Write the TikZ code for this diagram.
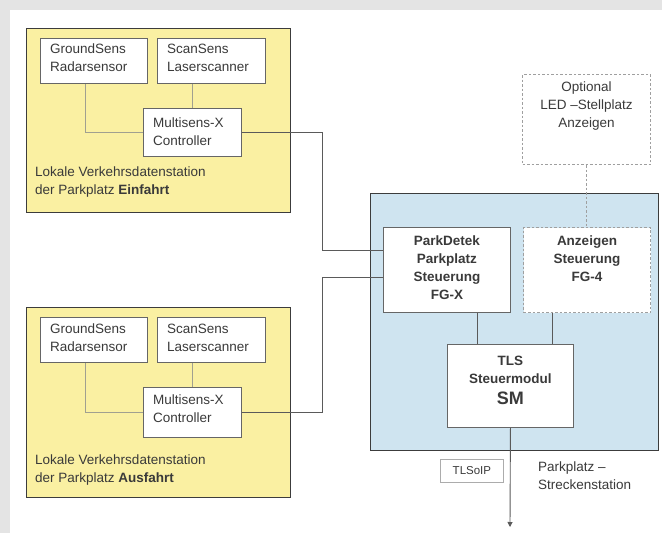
\documentclass[tikz,border=0pt]{standalone}
\usepackage{fontspec}
\setmainfont{Liberation Sans}
\usetikzlibrary{arrows.meta}
\definecolor{bggray}{HTML}{E4E4E4}
\definecolor{yel}{HTML}{FAF0A2}
\definecolor{blu}{HTML}{CFE4F0}
\definecolor{txt}{HTML}{3A3A3A}
\definecolor{frame}{HTML}{3C3C3C}
\definecolor{wire}{HTML}{5A5A5A}
\definecolor{thin}{HTML}{A0A090}
\tikzset{
  every node/.style={font=\fontsize{13.5}{18}\selectfont, text=txt},
  station/.style={draw=frame, line width=1.4pt, fill=yel},
  unit/.style={draw=frame, line width=1.4pt, fill=blu},
  wbox/.style={draw=gray!80!black, line width=0.9pt, fill=white, anchor=north west, inner sep=0pt},
  dbox/.style={draw=gray!75, line width=1pt, dash pattern=on 2.5pt off 2pt, fill=white, anchor=north west, inner sep=0pt},
  lbl/.style={anchor=north west, align=left, inner sep=0pt},
  ctr/.style={anchor=north, align=center, inner sep=0pt},
  thinwire/.style={draw=thin, line width=0.8pt},
  wirestyle/.style={draw=wire, line width=0.9pt},
}
\begin{document}
\begin{tikzpicture}[x=1pt,y=-1pt]
\fill[bggray] (0,0) rectangle (662,533);
\fill[white] (10,10) rectangle (662,533);
\useasboundingbox (0,0) rectangle (662,533);

% ---- top station (Einfahrt)
\node[station, anchor=north west, minimum width=264pt, minimum height=184pt, inner sep=0pt] (st1) at (26,28) {};
\node[wbox, minimum width=107pt, minimum height=45pt] (gs1) at (40,38) {};
\node[lbl] (gs1t) at (50,44) {GroundSens\\Radarsensor};
\node[wbox, minimum width=108pt, minimum height=45pt] (ss1) at (157,38) {};
\node[lbl] (ss1t) at (167,44) {ScanSens\\Laserscanner};
\node[wbox, minimum width=98pt, minimum height=48pt] (mx1) at (143,108) {};
\node[lbl] (mx1t) at (153,118) {Multisens-X\\Controller};
\node[lbl] (st1t) at (35,167) {Lokale Verkehrsdatenstation\\der Parkplatz \textbf{Einfahrt}};
\draw[thinwire] ([xshift=-8.5pt]gs1.south) |- (mx1.west);
\draw[thinwire] (mx1.north) -- (mx1.north |- ss1.south);

% ---- bottom station (Ausfahrt)
\node[station, anchor=north west, minimum width=264pt, minimum height=190pt, inner sep=0pt] (st2) at (26,307) {};
\node[wbox, minimum width=107pt, minimum height=45pt] (gs2) at (40,317) {};
\node[lbl] (gs2t) at (50,324) {GroundSens\\Radarsensor};
\node[wbox, minimum width=108pt, minimum height=45pt] (ss2) at (157,317) {};
\node[lbl] (ss2t) at (167,324) {ScanSens\\Laserscanner};
\node[wbox, minimum width=98pt, minimum height=50pt] (mx2) at (143,387) {};
\node[lbl] (mx2t) at (153,395) {Multisens-X\\Controller};
\node[lbl] (st2t) at (35,455) {Lokale Verkehrsdatenstation\\der Parkplatz \textbf{Ausfahrt}};
\draw[thinwire] ([xshift=-8.5pt]gs2.south) |- (mx2.west);
\draw[thinwire] (mx2.north) -- (mx2.north |- ss2.south);

% ---- optional display
\node[dbox, minimum width=128pt, minimum height=90pt] (opt) at (522,74) {};
\node[ctr] (optt) at ([yshift=-8pt]opt.north) {Optional\\LED –Stellplatz\\Anzeigen};

% ---- central unit
\node[unit, anchor=north west, minimum width=288pt, minimum height=257pt, inner sep=0pt] (cu) at (370,193) {};
\node[wbox, minimum width=127pt, minimum height=85pt] (pd) at (383,227) {};
\node[ctr] (pdt) at ([yshift=-9pt]pd.north) {\textbf{ParkDetek}\\\textbf{Parkplatz}\\\textbf{Steuerung}\\\textbf{FG-X}};
\node[dbox, minimum width=127pt, minimum height=85pt] (anz) at (523,227) {};
\node[ctr] (anzt) at ([yshift=-9pt]anz.north) {\textbf{Anzeigen}\\\textbf{Steuerung}\\\textbf{FG-4}};
\node[wbox, minimum width=126pt, minimum height=83pt] (tls) at (447,344) {};
\node[ctr] (tlst) at ([yshift=-12pt]tls.north) {\textbf{TLS}\\\textbf{Steuermodul}\\[3pt]{\fontsize{18}{20}\selectfont\textbf{SM}}};

\draw[wirestyle, dash pattern=on 2.5pt off 2pt, draw=gray!75] (opt.south) -- (opt.south |- anz.north);
\draw[wirestyle] ([xshift=30.5pt]pd.south) -- ([xshift=30.5pt]pd.south |- tls.north);
\draw[wirestyle] ([xshift=-34.5pt]anz.south) -- ([xshift=-34.5pt]anz.south |- tls.north);

% ---- connections stations -> ParkDetek
\coordinate (j1) at (322,250);
\coordinate (j2) at (322,277);
\draw[wirestyle] (mx1.east) -| (j1) -- (j1 -| pd.west);
\draw[wirestyle] (mx2.east) -| (j2) -- (j2 -| pd.west);

% ---- output
\coordinate (out) at (510,527);
\draw[wirestyle, -{Triangle[length=5pt,width=5pt]}] (tls.south) -- (out);
\node[draw=gray!65, line width=0.8pt, anchor=north west, minimum width=63pt, minimum height=23pt, inner sep=0pt, font=\fontsize{11.5}{13}\selectfont] (tlsip) at (440,459) {TLSoIP};
\node[lbl] (strk) at (538,462) {Parkplatz –\\Streckenstation};
\end{tikzpicture}
\end{document}
